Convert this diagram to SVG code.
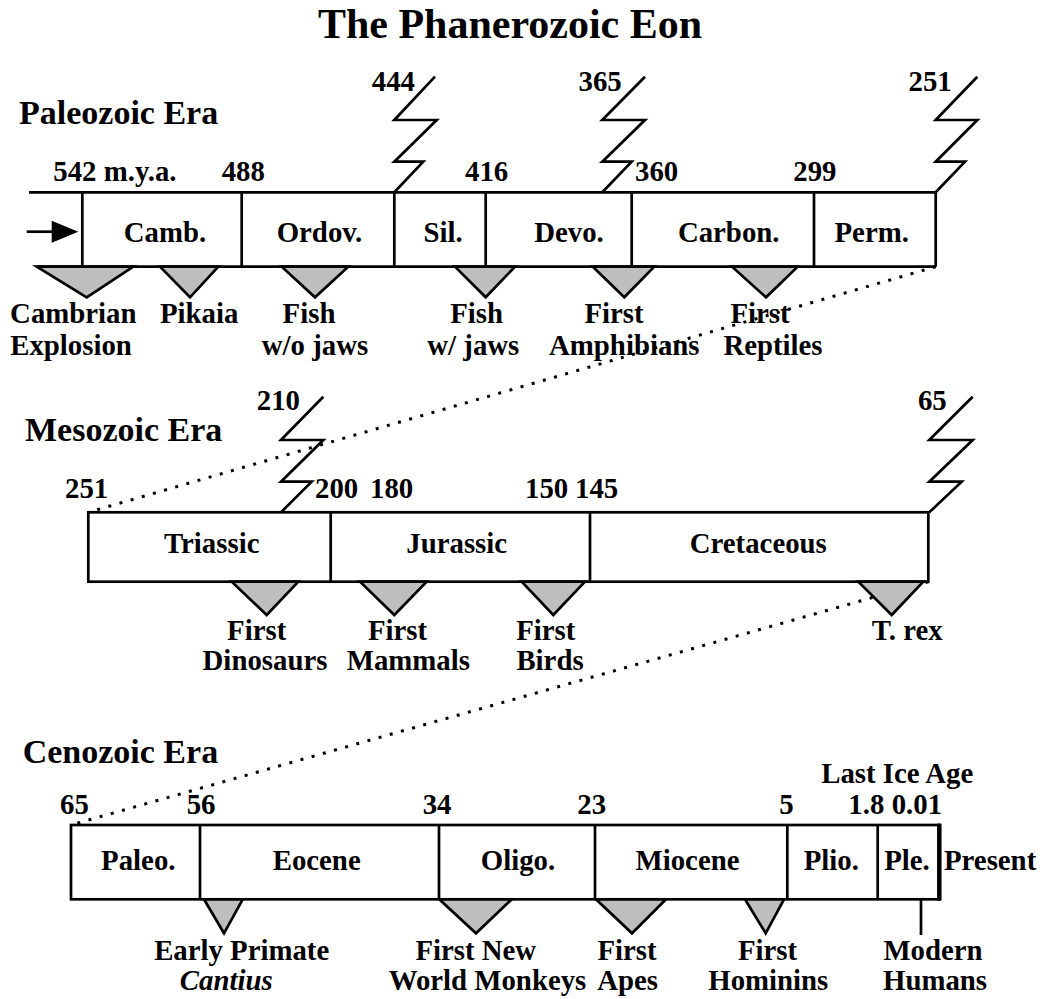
<svg xmlns="http://www.w3.org/2000/svg" width="1057" height="999" viewBox="0 0 1057 999">
  <style>
    text { font-family: "Liberation Serif", "Times New Roman", serif; font-weight: bold; fill: #000; }
    .title { font-size: 42px; text-anchor: middle; }
    .era { font-size: 34px; }
    .lbl { font-size: 28.8px; }
    .c { text-anchor: middle; }
    .e { text-anchor: end; }
    .it { font-style: italic; }
    .ln { fill: none; stroke: #000; stroke-width: 2.7; stroke-linejoin: miter; }
    .box { fill: #fff; stroke: #000; stroke-width: 2.7; }
    .tri { fill: #bebebe; stroke: #000; stroke-width: 2.7; stroke-linejoin: miter; }
    .dot { fill: none; stroke: #000; stroke-width: 3; stroke-dasharray: 3 8.6; }
  </style>

  <rect width="1057" height="999" fill="#fff"/>

  <text class="title" x="510" y="38">The Phanerozoic Eon</text>

  <!-- zoom connectors between eras, and the start arrow -->
  <g id="connectors">
    <path class="dot" d="M935.7,266.7 L88.3,512.3"/>
    <path class="dot" d="M928.3,581.7 L71,825"/>
    <path d="M26.7,231.7 H52" stroke="#000" stroke-width="2.7"/>
    <path d="M51.7,220.7 L78.3,231.7 L51.7,242.7 Z" fill="#000"/>
  </g>

  <!-- Paleozoic era -->
  <g id="paleozoic">
    <text class="era" x="19" y="124">Paleozoic Era</text>
    <path class="ln" d="M29,192.3 H935.7 M36.7,266.7 H935.7"/>
    <path class="ln" d="M82.3,192.3 V269 M241.7,192.3 V266.7 M394.3,192.3 V266.7 M485.7,192.3 V266.7 M631.7,192.3 V266.7 M814,192.3 V266.7 M935.7,192.3 V266.7"/>
    <path class="ln" d="M394.3,192.3 L423.3,161.7 H394.3 L436.7,120 H394.3 L435,76.7"/>
    <path class="ln" d="M602.3,192.3 L631.7,161.7 H602.3 L645,120 H602.3 L645,76.7"/>
    <path class="ln" d="M935.7,192.3 L965,161.7 H935.7 L977.3,120 H935.7 L977.3,76.7"/>
    <text class="lbl" x="53.3" y="181">542 m.y.a.</text>
    <text class="lbl" x="221.7" y="181">488</text>
    <text class="lbl" x="465" y="181">416</text>
    <text class="lbl" x="635" y="181">360</text>
    <text class="lbl" x="793.3" y="181">299</text>
    <text class="lbl e" x="415" y="91">444</text>
    <text class="lbl e" x="621.7" y="91">365</text>
    <text class="lbl e" x="951.7" y="91">251</text>
    <g id="camb"><text class="lbl c" x="165" y="242">Camb.</text></g>
    <g id="ordov"><text class="lbl c" x="319.5" y="242">Ordov.</text></g>
    <g id="sil"><text class="lbl c" x="443" y="242">Sil.</text></g>
    <g id="devo"><text class="lbl c" x="569" y="242">Devo.</text></g>
    <g id="carbon"><text class="lbl c" x="728.7" y="242">Carbon.</text></g>
    <g id="perm"><text class="lbl c" x="871.7" y="242">Perm.</text></g>
    <g id="ev-cambrian-explosion">
      <path class="tri" d="M36.7,266.7 H133.3 L86.7,297.3 Z"/>
      <text class="lbl c" x="73.3" y="323.3">Cambrian</text>
      <text class="lbl c" x="71" y="355">Explosion</text>
    </g>
    <g id="ev-pikaia">
      <path class="tri" d="M160,266.7 H218.3 L190,297.3 Z"/>
      <text class="lbl c" x="199.2" y="323.3">Pikaia</text>
    </g>
    <g id="ev-jawless-fish">
      <path class="tri" d="M281.7,266.7 H348.3 L315,297.3 Z"/>
      <text class="lbl c" x="309" y="323.3">Fish</text>
      <text class="lbl c" x="315" y="355">w/o jaws</text>
    </g>
    <g id="ev-jawed-fish">
      <path class="tri" d="M455,266.7 H515 L485.7,297.3 Z"/>
      <text class="lbl c" x="476.7" y="323.3">Fish</text>
      <text class="lbl c" x="473.3" y="355">w/ jaws</text>
    </g>
    <g id="ev-amphibians">
      <path class="tri" d="M592.7,266.7 H654.3 L624.3,297.3 Z"/>
      <text class="lbl c" x="614" y="323.3">First</text>
      <text class="lbl c" x="624.3" y="355">Amphibians</text>
    </g>
    <g id="ev-reptiles">
      <path class="tri" d="M732,266.7 H797.7 L766,297.3 Z"/>
      <text class="lbl c" x="760" y="323.3">First</text>
      <text class="lbl c" x="773" y="355">Reptiles</text>
    </g>
  </g>

  <!-- Mesozoic era -->
  <g id="mesozoic">
    <text class="era" x="25" y="441">Mesozoic Era</text>
    <rect class="box" x="88.3" y="512.3" width="840" height="69.4"/>
    <path class="ln" d="M330.7,512.3 V581.7 M590,512.3 V581.7"/>
    <path class="ln" d="M281,512.3 L311.7,481.7 H281 L323.3,440 H281 L323.3,396.7"/>
    <path class="ln" d="M929.3,512.3 L961.7,481.7 H929.3 L972.7,440 H929.3 L972.7,396.7"/>
    <text class="lbl e" x="300" y="410">210</text>
    <text class="lbl e" x="946.7" y="410">65</text>
    <text class="lbl" x="65" y="498.3">251</text>
    <text class="lbl" x="315" y="498.3">200</text>
    <text class="lbl" x="370" y="498.3">180</text>
    <text class="lbl" x="525" y="498.3">150</text>
    <text class="lbl" x="575" y="498.3">145</text>
    <g id="triassic"><text class="lbl c" x="211.7" y="553.3">Triassic</text></g>
    <g id="jurassic"><text class="lbl c" x="456.7" y="553.3">Jurassic</text></g>
    <g id="cretaceous"><text class="lbl c" x="758.3" y="553.3">Cretaceous</text></g>
    <g id="ev-dinosaurs">
      <path class="tri" d="M231.7,581.7 H298.3 L266.7,615 Z"/>
      <text class="lbl c" x="256.7" y="640">First</text>
      <text class="lbl c" x="265" y="670">Dinosaurs</text>
    </g>
    <g id="ev-mammals">
      <path class="tri" d="M360,581.7 H426.7 L394.3,615 Z"/>
      <text class="lbl c" x="397.5" y="640">First</text>
      <text class="lbl c" x="408.3" y="670">Mammals</text>
    </g>
    <g id="ev-birds">
      <path class="tri" d="M521.7,581.7 H585 L553.3,615 Z"/>
      <text class="lbl c" x="545.8" y="640">First</text>
      <text class="lbl c" x="550" y="670">Birds</text>
    </g>
    <g id="ev-trex">
      <path class="tri" d="M858.3,581.7 H923.3 L891.7,615 Z"/>
      <text class="lbl c" x="907.2" y="640">T. rex</text>
    </g>
  </g>

  <!-- Cenozoic era -->
  <g id="cenozoic">
    <text class="era" x="22.7" y="763.3">Cenozoic Era</text>
    <text class="lbl c" x="897.2" y="783.3">Last Ice Age</text>
    <rect class="box" x="71" y="825" width="868.3" height="74.3"/>
    <path d="M939.3,823.6 V900.6" stroke="#000" stroke-width="4.5"/>
    <path class="ln" d="M200,825 V899.3 M439,825 V899.3 M595,825 V899.3 M787.3,825 V899.3 M877.7,825 V899.3"/>
    <text class="lbl" x="60" y="814">65</text>
    <text class="lbl" x="186.7" y="814">56</text>
    <text class="lbl" x="422.7" y="814">34</text>
    <text class="lbl" x="577.3" y="814">23</text>
    <text class="lbl" x="779.3" y="814">5</text>
    <text class="lbl" x="848.3" y="814">1.8</text>
    <text class="lbl" x="891.7" y="814">0.01</text>
    <g id="paleocene"><text class="lbl c" x="138.3" y="869.5">Paleo.</text></g>
    <g id="eocene"><text class="lbl c" x="316.7" y="869.5">Eocene</text></g>
    <g id="oligocene"><text class="lbl c" x="518" y="869.5">Oligo.</text></g>
    <g id="miocene"><text class="lbl c" x="687.5" y="869.5">Miocene</text></g>
    <g id="pliocene"><text class="lbl c" x="831.3" y="869.5">Plio.</text></g>
    <g id="pleistocene"><text class="lbl c" x="907" y="869.5">Ple.</text></g>
    <g id="present"><text class="lbl" x="944" y="869.5">Present</text></g>
    <g id="ev-early-primate">
      <path class="tri" d="M204,899.3 H242.7 L224,933.3 Z"/>
      <text class="lbl c" x="241.7" y="960">Early Primate</text>
      <text class="lbl c it" x="226.3" y="989.5">Cantius</text>
    </g>
    <g id="ev-new-world-monkeys">
      <path class="tri" d="M439.3,899.3 H511.7 L476,933.3 Z"/>
      <text class="lbl c" x="475.8" y="960">First New</text>
      <text class="lbl c" x="487.5" y="989.5">World Monkeys</text>
    </g>
    <g id="ev-apes">
      <path class="tri" d="M596,899.3 H666 L632,933.3 Z"/>
      <text class="lbl c" x="627" y="960">First</text>
      <text class="lbl c" x="627.7" y="989.5">Apes</text>
    </g>
    <g id="ev-hominins">
      <path class="tri" d="M745,899.3 H784 L765.7,933.3 Z"/>
      <text class="lbl c" x="767.5" y="960">First</text>
      <text class="lbl c" x="768.3" y="989.5">Hominins</text>
    </g>
    <g id="ev-modern-humans">
      <path class="ln" d="M921,899.3 V935"/>
      <text class="lbl c" x="933" y="960">Modern</text>
      <text class="lbl c" x="935" y="989.5">Humans</text>
    </g>
  </g>
</svg>
